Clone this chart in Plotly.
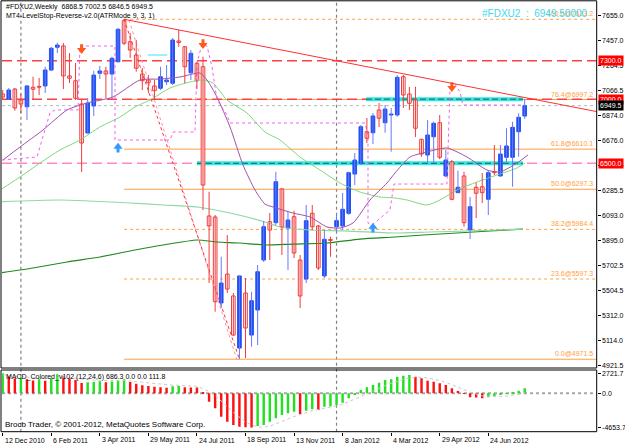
import plotly.graph_objects as go
import pandas as pd

W, H = 625, 446

# ---------------- data ----------------
first_week = "2010-12-12"
weeks = pd.date_range(first_week, periods=87, freq="7D")
idx = list(range(len(weeks)))

opens = [7040, 6999, 7079, 6994, 6941, 7093, 7097, 7103, 7227, 7405,
         7415, 7181, 7144, 6962, 6736, 6947, 7202, 7220, 7196, 7292,
         7613, 7448, 7344.5, 7196, 7149.5, 7103, 7085, 7136, 7124, 7454,
         7409, 7206, 7280, 7253, 6089, 6081, 5410, 5636, 5465, 5059,
         5488, 5160, 5355.5, 5745.5, 6044, 6036.5, 6299.5, 5995, 6083, 5745.5,
         5597, 6110, 6011, 5621, 5905, 6005, 6011, 6110, 6416, 6500,
         6746, 6738, 6915.5, 6816, 6876.5, 6876.5, 7175, 7040, 6994, 6687,
         6564.5, 6707, 6816.5, 6401, 6512, 6270.5, 6401, 5979.5, 6312.5, 6317,
         6219, 6434, 6401, 6546.5, 6546.5, 6746, 6868.5]
highs = [7071, 7087, 7087, 7040, 7110, 7175, 7165, 7253, 7407, 7440,
         7438, 7360, 7282, 6994, 7009, 7222, 7259, 7253, 7331, 7555,
         7623.2, 7516, 7461.5, 7243, 7188.5, 7149.5, 7253, 7266.5, 7477, 7539.5,
         7415, 7383.5, 7292, 7331, 6278, 6096.5, 5771, 5940.5, 5488, 5625,
         5605, 5498, 5706.5, 6050, 6112, 6434, 6307, 6130, 6130, 5784.5,
         6174.5, 6174.5, 6018.5, 5979.5, 5927, 6112, 6268, 6434, 6580, 6798.5,
         6853, 6892, 6970, 6954.5, 6931, 7188.5, 7188.5, 7095, 7097, 6690,
         6837.5, 6824, 6876.5, 6603.5, 6525.5, 6442, 6434, 6237, 6348.5, 6424,
         6447.5, 6642.5, 6642.5, 6773, 6824, 6890, 7002.5]
lows = [6994, 6994, 6910, 6892, 6838, 6994, 7032, 7048, 7220, 7360,
        7079, 7126, 6994, 6432, 6732, 6869, 7157, 7009, 7001, 7286,
        7422, 7321, 7214, 7071, 7048, 6994, 7071, 7110, 7110, 7409,
        7126, 7149.5, 7079, 6135.5, 5566, 5342, 5371, 5488, 5153, 4971.5,
        4981, 5069, 5082.5, 5730, 5745.5, 6018.5, 5784.5, 5667.5, 5761, 5371,
        5566, 5979.5, 5667.5, 5605, 5771, 5956, 5979.5, 6096.5, 6330, 6486.5,
        6658, 6650.5, 6783, 6738, 6590, 6863, 6931, 6915.5, 6705, 6551,
        6502, 6502, 6531, 6393, 6212, 6268, 6005, 5909, 6073, 6190,
        6096.5, 6408.5, 6395, 6500, 6317, 6551, 6846.5]
closes = [7017, 7071.5, 6931, 6962, 7103, 7077, 7093, 7227.5, 7397, 7422,
          7181, 7163, 7007, 6658, 6970, 7188, 7220, 7196, 7319, 7545,
          7436, 7383.5, 7241, 7144, 7128.5, 7066, 7175, 7149.5, 7461.5, 7442,
          7253, 7358, 7144, 6330, 6011, 5420, 5566, 5519, 5160, 5621,
          5215, 5428, 5654, 6005, 5979.5, 6356, 6003, 6057.5, 5800, 5465,
          6052, 6005, 5683, 5907, 5898, 6052, 6141, 6426.5, 6525.5, 6785,
          6695, 6869, 6851, 6923, 6884, 7170.5, 7032.5, 6968, 6773, 6572,
          6720.5, 6812, 6546.5, 6525.5, 6219, 6312.5, 6036.5, 6161, 6266, 6270.5,
          6426.5, 6426.5, 6572, 6635, 6780.5, 6858.5, 6949.5]

macd_hist = [2721.7, 2300, 2000, 2100, 1900, 1750, 1900, 1700, 2000, 2600,
             2300, 2000, 1800, 1400, 1500, 1550, 1650, 1500, 1600, 1750,
             1900, 1550, 1300, 1100, 1000, 900, 820, 760, 950, 980,
             820, 800, 780, 100, -1130, -2040, -3170, -3850, -4300, -4530,
             -4600, -4653.7, -4450, -4300, -3850, -3400, -2950, -2720, -2490, -2800,
             -2350, -2170, -2250, -1810, -1780, -1585, -1270, -680, -150, 450,
             815, 1130, 1450, 1810, 1900, 2260, 2400, 2490, 2260, 2040,
             1720, 1585, 1360, 1130, 680, 320, -60, -540, -560, -680,
             -545, -360, -225, -60, 140, 360, 686.3]
macd_signal = [2500, 2450, 2350, 2280, 2200, 2100, 2050, 1980, 1990, 2100,
               2150, 2120, 2060, 1930, 1850, 1790, 1760, 1710, 1690, 1700,
               1740, 1700, 1620, 1520, 1420, 1320, 1230, 1150, 1110, 1090,
               1040, 1000, 960, 600, 250, -300, -1000, -1800, -2600, -3300,
               -3900, -4300, -4550, -4600, -4450, -4150, -3800, -3450, -3150, -2900,
               -2600, -2350, -2200, -2050, -1900, -1700, -1450, -1150, -800, -450,
               -50, 350, 700, 1050, 1350, 1650, 1900, 2100, 2200, 2200,
               2100, 1950, 1750, 1500, 1200, 850, 500, 150, -150, -350,
               -450, -480, -450, -380, -280, -120, 111.8]

# moving averages (bar position, price)
ma_purple_x = [0.05, 2.85, 6.64, 10.59, 13.89, 18.17, 22.62, 25.91, 29.21, 32.5, 33.66, 35.3, 37.45,
               39.59, 41.57, 43.2, 44.53, 47.8, 50.63, 53.43, 55.57, 57.71, 60.51, 63.31, 64.63,
               67.1, 69.9, 73.19, 76.49, 79.78, 81.93, 84.73, 86.54]
ma_purple_y = [6525.5, 6627, 6759.5, 6915.5, 6970, 7017, 7149.5, 7157, 7173, 7204, 7149.5, 7017, 6783,
               6486.5, 6291.5, 6182, 6159, 6112, 6081, 6003, 5995, 6034, 6213.5, 6346, 6424,
               6549, 6588, 6619, 6549, 6447.5, 6432, 6502, 6564.5]
ma_green_x = [-0.44, 2.85, 6.15, 9.44, 12.73, 16.03, 19.32, 21.8, 24.27, 27.56, 30.86, 32.83, 34.64,
              36.95, 40.25, 43.21, 45.68, 48.98, 52.27, 55.57, 58.86, 62.16, 64.63, 66.61, 69.9,
              72.04, 74.84, 78.14, 81.43, 84.73, 86.05]
ma_green_y = [6291.5, 6393, 6502, 6603.5, 6681.5, 6783, 6861, 6939, 6993.5, 7087, 7134, 7149.5, 7126,
              6993.5, 6892, 6744, 6681.5, 6549, 6447.5, 6346, 6276, 6237, 6229, 6213.5, 6174.5,
              6213.5, 6291.5, 6354, 6408.5, 6463, 6502]
ma_pale_x = [-0.44, 9.44, 20.97, 26.41, 32.01, 37.45, 43.21, 45.68, 50.63, 56.06, 64.63, 70.4, 77.0, 81.93, 85.72]
ma_pale_y = [6200, 6213.5, 6190, 6174.5, 6159, 6112, 6042, 6003, 5979.5, 5972, 5956, 5964, 5972, 5979.5, 5987]
ma_dark_x = [-0.44, 4.99, 10.59, 16.03, 21.8, 26.41, 32.01, 35.3, 39.1, 43.21, 47.82, 53.43, 58.86,
             64.63, 69.24, 74.84, 80.28, 85.72]
ma_dark_y = [5644, 5683, 5730, 5769, 5823.5, 5862.5, 5901.5, 5886, 5878, 5862.5, 5870, 5878, 5909,
             5925, 5940.5, 5956, 5972, 5987]

# LevelStop-Reverse trailing stop path
stop_x = [-0.12, 5.65, 6.47, 7.79, 8.62, 12.41, 12.73, 18.5, 18.5, 27.56, 28.06, 31.68, 32.01, 32.83,
          33.66, 34.48, 35.31, 36.95, 37.45, 59.69, 60.18, 60.18, 60.84, 63.8, 64.46, 73.19, 73.69,
          74.51, 75.33, 75.83, 85.7]
stop_y = [6525.5, 6549, 6681.5, 6892, 6915.5, 6915.5, 7414.7, 7414.7, 6681.5, 6681.5, 6744, 6744, 7282, 7430,
          7415, 7251, 6993.5, 6876.5, 6814, 6814, 6720.5, 6034, 6018.5, 6135.5, 6338, 6338, 7071.5,
          7118, 7056, 6954.5, 6954.5]

down_arrow_x = [13, 33, 74]
down_arrow_y = [7383.5, 7422.5, 7087]
up_arrow_x = [19, 61]
up_arrow_y = [6629, 6005]

zigzag_x = [20, 39]
zigzag_y = [7623.2, 4971.5]
zigzag2_x = [20.8, 38.6]
zigzag2_y = [7617.5, 4965.5]
trend_x = [20, 97.86]
trend_y = [7623.2, 6903]

fib_pct = ["100.0", "76.4", "61.8", "50.0", "38.2", "23.6", "0.0"]
fib_val = [7623.2, 6997.2, 6610.1, 6297.3, 5984.4, 5597.3, 4971.5]
fib_start = 20

red_levels = [7300.0, 7000.0]
pink_level = 6500.0
cyan_bands = [(59.85, 85.7, 7000.0), (32.0, 85.7, 6500.0)]
cyan_box = (23.9, 27.1, 7344.5)
bid = 6949.5
year_separators = [3, 55]

price_ticks = [7655.0, 7457.0, 7264.5, 7066.5, 6874.0, 6676.0, 6483.5, 6285.5, 6093.0,
               5895.0, 5702.5, 5504.5, 5312.0, 5114.0, 4921.5]
macd_ticks = [2721.7, 0.0, -4653.7]
date_tick_step = 8

# ---------------- figure ----------------
FONT = "Liberation Sans"
X0, X1 = 2 / W, 596.7 / W
XR = [-0.115, 97.86]
YR = [4903.1, 7757.9]
Y2R = [-5210, 3170]


def py(p):
    return 1 - p / H


fig = go.Figure()

# moving averages
for xs, ys, col, wd in [(ma_dark_x, ma_dark_y, "#1E8A1E", 1.2), (ma_pale_x, ma_pale_y, "#8ED8A8", 1.2),
                        (ma_green_x, ma_green_y, "#7CD87C", 1), (ma_purple_x, ma_purple_y, "#A050A8", 1)]:
    fig.add_trace(go.Scatter(x=xs, y=ys, mode="lines", line=dict(color=col, width=wd, shape="spline", smoothing=0.6),
                             hoverinfo="skip", showlegend=False))

# stop line and zigzags
fig.add_trace(go.Scatter(x=stop_x, y=stop_y, mode="lines", line=dict(color="#F060F0", width=1, dash="dot"),
                         showlegend=False, hoverinfo="skip"))
fig.add_trace(go.Scatter(x=zigzag2_x, y=zigzag2_y, mode="lines", line=dict(color="#FF90B0", width=1, dash="dot"),
                         showlegend=False, hoverinfo="skip"))
fig.add_trace(go.Scatter(x=zigzag_x, y=zigzag_y, mode="lines", line=dict(color="#FF3030", width=1, dash="dot"),
                         showlegend=False, hoverinfo="skip"))

# wicks
bull = [i for i in idx if closes[i] >= opens[i]]
bear = [i for i in idx if closes[i] < opens[i]]
for group, col in [(bull, "#6878FF"), (bear, "#F03C3C")]:
    wx, wy = [], []
    for i in group:
        wx += [i, i, None]
        wy += [lows[i], highs[i], None]
    fig.add_trace(go.Scatter(x=wx, y=wy, mode="lines", line=dict(color=col, width=1),
                             showlegend=False, hoverinfo="skip"))

# bodies
for group, fill, edge in [(bull, "#2050F0", "#2050F0"), (bear, "#FFF6F6", "#F03C3C")]:
    fig.add_trace(go.Bar(x=group, base=[min(opens[i], closes[i]) for i in group],
                         y=[max(abs(closes[i] - opens[i]), 7) for i in group],
                         width=0.6, marker=dict(color=fill, line=dict(color=edge, width=1)),
                         showlegend=False, hoverinfo="skip"))

# arrows
fig.add_trace(go.Scatter(x=down_arrow_x, y=down_arrow_y, mode="markers",
                         marker=dict(symbol="triangle-down", size=8, color="#FF5A1E"),
                         showlegend=False, hoverinfo="skip"))
sx, sy = [], []
for x, y in zip(down_arrow_x, down_arrow_y):
    sx += [x, x, None]
    sy += [y + 10, y + 45, None]
fig.add_trace(go.Scatter(x=sx, y=sy, mode="lines", line=dict(color="#FF5A1E", width=3),
                         showlegend=False, hoverinfo="skip"))
fig.add_trace(go.Scatter(x=up_arrow_x, y=up_arrow_y, mode="markers",
                         marker=dict(symbol="triangle-up", size=8, color="#3399FF"),
                         showlegend=False, hoverinfo="skip"))
sx, sy = [], []
for x, y in zip(up_arrow_x, up_arrow_y):
    sx += [x, x, None]
    sy += [y - 10, y - 45, None]
fig.add_trace(go.Scatter(x=sx, y=sy, mode="lines", line=dict(color="#3399FF", width=3),
                         showlegend=False, hoverinfo="skip"))

# MACD
hist_cols = ["#20E020" if (i == 0 or macd_hist[i] > macd_hist[i - 1]) else "#FF1010" for i in idx]
fig.add_trace(go.Bar(x=idx, y=macd_hist, width=0.4, marker=dict(color=hist_cols, line=dict(width=0)),
                     yaxis="y2", showlegend=False, hoverinfo="skip"))
fig.add_trace(go.Scatter(x=idx, y=macd_signal, mode="lines", line=dict(color="#C8C8C8", width=1, dash="dot"),
                         yaxis="y2", showlegend=False, hoverinfo="skip"))

shapes = []
# fib lines
for p, v in zip(fib_pct, fib_val):
    dash = "dot" if p in ("38.2", "23.6", "100.0") else "solid"
    shapes.append(dict(type="line", xref="x", yref="y", x0=fib_start, x1=XR[1], y0=v, y1=v,
                       line=dict(color="#FFA040", width=1, dash=dash), layer="below"))
# horizontal levels
shapes.append(dict(type="line", xref="x", yref="y", x0=XR[0], x1=XR[1], y0=bid, y1=bid,
                   line=dict(color="#B8B8B8", width=1, dash="dot"), layer="below"))
for lv in red_levels:
    shapes.append(dict(type="line", xref="x", yref="y", x0=XR[0], x1=XR[1], y0=lv, y1=lv,
                       line=dict(color="#FF4040", width=1.5, dash="10px,5px"), layer="below"))
shapes.append(dict(type="line", xref="x", yref="y", x0=XR[0], x1=XR[1], y0=pink_level, y1=pink_level,
                   line=dict(color="#FF88C0", width=1.5, dash="10px,5px"), layer="below"))
for a, b, lv in cyan_bands:
    shapes.append(dict(type="line", xref="x", yref="y", x0=a, x1=b, y0=lv, y1=lv,
                       line=dict(color="#30E8E0", width=4), layer="below"))
    shapes.append(dict(type="line", xref="x", yref="y", x0=a, x1=b, y0=lv, y1=lv,
                       line=dict(color="#106060", width=1, dash="6px,3px"), layer="below"))
shapes.append(dict(type="line", xref="x", yref="y", x0=cyan_box[0], x1=cyan_box[1], y0=cyan_box[2], y1=cyan_box[2],
                   line=dict(color="#40E0F0", width=1), layer="below"))
# trend line
shapes.append(dict(type="line", xref="x", yref="y", x0=trend_x[0], x1=trend_x[1], y0=trend_y[0], y1=trend_y[1],
                   line=dict(color="#FF3030", width=1)))
# MACD zero line
shapes.append(dict(type="line", xref="x", yref="y2", x0=XR[0], x1=XR[1], y0=0, y1=0,
                   line=dict(color="#A8A8A8", width=2, dash="dot"), layer="below"))
# separators
for s in year_separators:
    shapes.append(dict(type="line", xref="x", yref="paper", x0=s, x1=s, y0=py(431.7), y1=py(1.5),
                       line=dict(color="#808080", width=1.2, dash="dot"), layer="below"))
# frames
shapes.append(dict(type="rect", xref="paper", yref="paper", x0=1 / W, x1=X1, y0=py(368), y1=py(0.8),
                   line=dict(color="#000000", width=1)))
shapes.append(dict(type="rect", xref="paper", yref="paper", x0=1 / W, x1=X1, y0=py(431.7), y1=py(370),
                   line=dict(color="#000000", width=1)))

ann = []
tf = dict(family=FONT, size=7, color="#000000")
ann.append(dict(text="#FDXU2,Weekly  6868.5 7002.5 6846.5 6949.5", x=4 / W, y=py(7), xref="paper", yref="paper",
                xanchor="left", yanchor="middle", showarrow=False, font=tf))
ann.append(dict(text="MT4-LevelStop-Reverse-v2.0(ATRMode 9, 3, 1)", x=4 / W, y=py(15.5), xref="paper",
                yref="paper", xanchor="left", yanchor="middle", showarrow=False, font=tf))
for p, v in zip(fib_pct, fib_val):
    ann.append(dict(text=f"{p}@{v:.1f}", x=595 / W, y=v, xref="paper", yref="y", xanchor="right",
                    yanchor="bottom", showarrow=False, font=dict(family=FONT, size=7, color="#FFA040")))
ann.append(dict(text="#FDXU2  :  6949.50000", x=590 / W, y=py(14), xref="paper", yref="paper",
                xanchor="right", yanchor="middle", showarrow=False,
                font=dict(family=FONT, size=10, color="#40D8F0")))
for lv, txt, bg in [(7300.0, "7300.0", "#FF0000"), (7000.0, "7000.0", "#FF0000"),
                    (bid, "6949.5", "#000000"), (pink_level, "6500.0", "#FF0000")]:
    ann.append(dict(text=txt, x=597.5 / W, y=lv, xref="paper", yref="y", xanchor="left", yanchor="middle",
                    showarrow=False, bgcolor=bg, borderpad=1,
                    font=dict(family=FONT, size=7, color="#FFFFFF")))
ann.append(dict(text="MACD_Colored_v102 (12,24,6) 686.3 0.0 0.0 111.8", x=4 / W, y=py(377), xref="paper",
                yref="paper", xanchor="left", yanchor="middle", showarrow=False, font=tf))
ann.append(dict(text="Brocb Trader, © 2001-2012, MetaQuotes Software Corp.", x=3 / W, y=py(424), xref="paper",
                yref="paper", xanchor="left", yanchor="middle", showarrow=False,
                font=dict(family=FONT, size=8, color="#000000")))
date_ticks = list(range(0, len(weeks), date_tick_step))
for i in date_ticks:
    d = weeks[i]
    ann.append(dict(text=f"{d.day} {d.strftime('%b %Y')}", x=i, y=py(440), xref="x", yref="paper",
                    xanchor="left", yanchor="middle", xshift=0, showarrow=False, font=tf))

fig.update_layout(
    width=W, height=H, margin=dict(l=0, r=0, t=0, b=0),
    paper_bgcolor="#FFFFFF", plot_bgcolor="#FFFFFF",
    barmode="overlay", showlegend=False,
    shapes=shapes, annotations=ann,
    xaxis=dict(domain=[X0, X1], range=XR, anchor="y2", showgrid=False, zeroline=False,
               tickvals=date_ticks, showticklabels=False, ticks="outside", ticklen=3,
               tickcolor="#000000", showline=False, fixedrange=True),
    yaxis=dict(domain=[py(368), py(2)], range=YR, side="right", anchor="x", showgrid=False,
               zeroline=False, tickvals=price_ticks, ticktext=[f"{t:.1f}" for t in price_ticks],
               ticks="outside", ticklen=3, tickcolor="#000000", tickfont=tf, showline=False),
    yaxis2=dict(domain=[py(431.7), py(370)], range=Y2R, side="right", anchor="x", showgrid=False,
                zeroline=False, tickvals=macd_ticks, ticktext=["2721.7", "0.0", "-4653.7"],
                ticks="outside", ticklen=3, tickcolor="#000000", tickfont=tf, showline=False),
)

fig.write_html("out.html")
